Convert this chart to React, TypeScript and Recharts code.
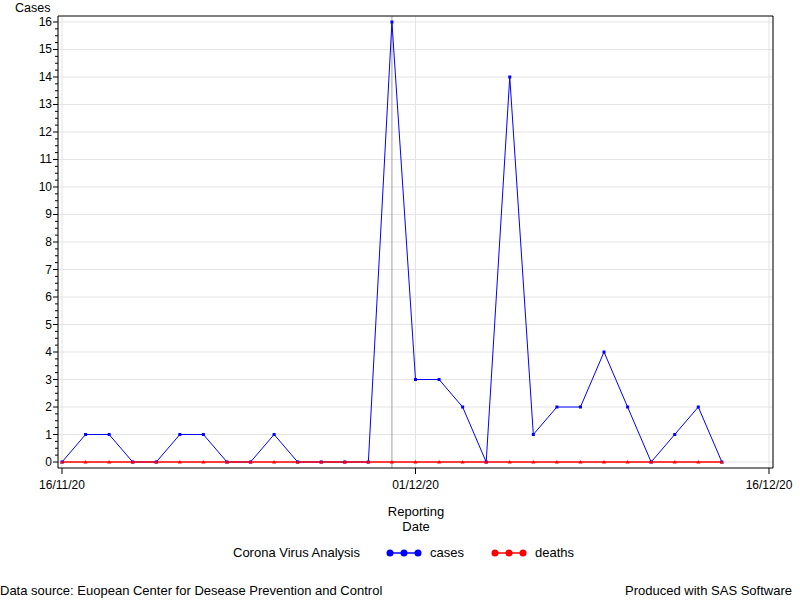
import React from "react";
import { LineChart, Line, XAxis, YAxis, CartesianGrid, ReferenceLine } from "recharts";

// days since 16/11/20
const dates = [
  "16/11/20", "17/11/20", "18/11/20", "19/11/20", "20/11/20", "21/11/20", "22/11/20", "23/11/20",
  "24/11/20", "25/11/20", "26/11/20", "27/11/20", "28/11/20", "29/11/20", "30/11/20", "01/12/20",
  "02/12/20", "03/12/20", "04/12/20", "05/12/20", "06/12/20", "07/12/20", "08/12/20", "09/12/20",
  "10/12/20", "11/12/20", "12/12/20", "13/12/20", "14/12/20",
];
const cases = [0, 1, 1, 0, 0, 1, 1, 0, 0, 1, 0, 0, 0, 0, 16, 3, 3, 2, 0, 14, 1, 2, 2, 4, 2, 0, 1, 2, 0];
const deaths = [0, 0, 0, 0, 0, 0, 0, 0, 0, 0, 0, 0, 0, 0, 0, 0, 0, 0, 0, 0, 0, 0, 0, 0, 0, 0, 0, 0, 0];

const xTicks = [0, 15, 30];
const xTickLabels = ["16/11/20", "01/12/20", "16/12/20"];
const yMajor = [0, 1, 2, 3, 4, 5, 6, 7, 8, 9, 10, 11, 12, 13, 14, 15, 16];
const yTicks = yMajor.flatMap((v) => (v < 16 ? [v, v + 0.25, v + 0.5, v + 0.75] : [v]));
const peakDay = 14;

const data = dates.map((d, i) => ({ day: i, date: d, cases: cases[i], deaths: deaths[i] }));

const font = "'Liberation Sans', Arial, sans-serif";

const YTick = (props: any) => {
  const { x, y, payload } = props;
  const v = payload.value;
  const major = Math.abs(v - Math.round(v)) < 1e-6;
  return (
    <g>
      <line x1={x - (major ? 5 : 3)} x2={x} y1={y} y2={y} stroke="#000" />
      {major && (
        <text x={x - 6} y={y} dy={4} textAnchor="end" fontSize={12} fill="#000" fontFamily={font}>
          {v}
        </text>
      )}
    </g>
  );
};

const CaseDot = (props: any) => {
  const { cx, cy, index } = props;
  return <rect key={"c" + index} x={cx - 1.5} y={cy - 1.5} width={3} height={3} fill="#0000ff" />;
};

const DeathDot = (props: any) => {
  const { cx, cy, index } = props;
  return <path key={"d" + index} d={`M${cx - 2},${cy + 1.5}L${cx},${cy - 2}L${cx + 2},${cy + 1.5}Z`} fill="#ff0000" />;
};

const LegendSymbol = ({ color, left }: { color: string; left: number }) => (
  <svg style={{ position: "absolute", left, top: 548 }} width={38} height={10}>
    <line x1={2} x2={36} y1={5} y2={5} stroke={color} strokeWidth={1.5} />
    <circle cx={5} cy={5} r={3.5} fill={color} />
    <circle cx={19} cy={5} r={3.5} fill={color} />
    <circle cx={33} cy={5} r={3.5} fill={color} />
  </svg>
);

const txt = (left: number, top: number, extra: React.CSSProperties = {}): React.CSSProperties => ({
  position: "absolute",
  left,
  top,
  lineHeight: "15px",
  fontSize: 13,
  whiteSpace: "nowrap",
  ...extra,
});

export default function App() {
  return (
    <div style={{ position: "absolute", left: 0, top: 0, width: 800, height: 600, background: "#fff", fontFamily: font, fontSize: 12, color: "#000" }}>
      <LineChart width={800} height={600} data={data} margin={{ top: 15, right: 26, left: 0, bottom: 0 }}>
        <CartesianGrid horizontal={false} stroke="#e4e4e4" />
        {yMajor.map((v) => (
          <ReferenceLine key={v} y={v} stroke="#e4e4e4" />
        ))}
        <ReferenceLine x={peakDay} stroke="#a0a0a0" />
        <XAxis
          dataKey="day"
          type="number"
          domain={[-0.17, 30.17]}
          ticks={xTicks}
          tickFormatter={(v: number) => xTickLabels[xTicks.indexOf(v)]}
          height={132}
          stroke="#000"
          tickSize={6}
          tickMargin={6}
          tick={{ fill: "#000", fontSize: 12, fontFamily: font }}
          interval={0}
        />
        <XAxis xAxisId="top" orientation="top" type="number" domain={[-0.17, 30.17]} height={1} tick={false} tickLine={false} stroke="#000" />
        <YAxis
          type="number"
          domain={[-0.218, 16.218]}
          ticks={yTicks}
          width={58}
          stroke="#000"
          tickLine={false}
          tickSize={0}
          tickMargin={0}
          tick={<YTick />}
          interval={0}
        />
        <YAxis yAxisId="right" orientation="right" type="number" domain={[-0.218, 16.218]} width={1} tick={false} tickLine={false} stroke="#000" />
        <Line dataKey="cases" stroke="#0000ff" strokeWidth={1} dot={<CaseDot />} isAnimationActive={false} />
        <Line dataKey="deaths" stroke="#ff0000" strokeWidth={1.5} dot={<DeathDot />} isAnimationActive={false} />
      </LineChart>

      <div style={txt(15, 1, { fontSize: 12.5 })}>Cases</div>
      <div style={txt(316, 504, { width: 200, textAlign: "center" })}>
        Reporting
        <br />
        Date
      </div>
      <div style={txt(233, 545)}>Corona Virus Analysis</div>
      <LegendSymbol color="#0000ff" left={385} />
      <div style={txt(430, 545)}>cases</div>
      <LegendSymbol color="#ff0000" left={490} />
      <div style={txt(535, 545)}>deaths</div>
      <div style={txt(0, 583)}>Data source: Euopean Center for Desease Prevention and Control</div>
      <div style={txt(0, 583, { left: "auto", right: 8 })}>Produced with SAS Software</div>
    </div>
  );
}
